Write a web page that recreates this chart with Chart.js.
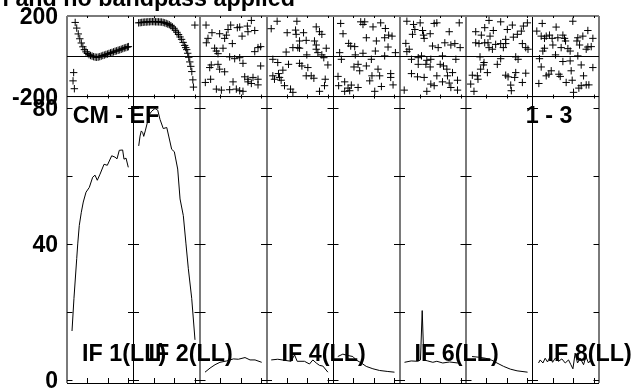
<!DOCTYPE html>
<html>
<head>
<meta charset="utf-8">
<script src="https://cdn.jsdelivr.net/npm/chart.js@4"></script>
<style>html,body{margin:0;padding:0;background:#fff}canvas{display:block}</style>
</head>
<body>
<canvas id="c" width="634" height="388"></canvas>
<script>
const titleText = "l and no bandpass applied";
const panelLabels = ["IF 1(LL)", "IF 2(LL)", "", "IF 4(LL)", "", "IF 6(LL)", "", "IF 8(LL)"];
const cornerLeft = "CM - EF";
const cornerRight = "1 - 3";
const phaseTicks = [-200, 0, 200];
const phaseLabels = [-200, 200];
const ampTicks = [0, 20, 40, 60, 80];
const ampLabels = [0, 40, 80];
const chanTicks = [20, 40, 60];
const panelSpan = 65;
const panelCount = 8;

const phase1 = [[5.9,-122],[6.5,-81],[7.2,-161],[8,168],[9.5,140],[11,111],[12.5,87],[14,66],[15.5,47],[17,33],[18.5,22],[20,14],[21.5,8],[23,4],[24.5,1],[26,-2],[27.5,-4],[29,-5],[30.5,-4],[32,-2],[33.5,1],[35,4],[36.5,6],[38,9],[39.5,11],[41,14],[42.5,17],[44,19],[45.5,22],[47,25],[48.5,27],[50,30],[51.5,32],[53,35],[54.5,38],[56,41],[57.5,43],[59,46],[60,48]];
const phase2 = [[5,166],[6.5,167],[8,168],[9.5,169],[11,170],[12.5,170],[14,171],[15.5,171],[17,172],[18.5,172],[20,172],[21.5,171],[23,171],[24.5,171],[26,170],[27.5,170],[29,168],[30.5,166],[32,163],[33.5,160],[35,157],[36.5,152],[38,146],[39.5,139],[41,129],[42.5,119],[44,108],[45.5,96],[47,84],[48.5,69],[50,54],[51,43],[52,33],[53,15],[54,-5],[55,-28],[56,-50],[57,-76],[58,-117],[58.6,-153],[60,155]];
const phase3 = [[5.9,155],[11.7,117],[7.8,89],[6.2,67],[19.2,112],[24.1,89],[25.8,105],[27.4,133],[30,155],[36.5,142],[38.8,145],[46.3,150],[50.2,178],[53.5,128],[46.9,122],[41.1,100],[31.6,63],[22.5,40],[14.3,40],[16,26],[17.6,13],[53.5,23],[56.7,43],[59.3,48],[59.3,-48],[29,-3],[33.9,-12],[38.8,-7],[42,-35],[11,-43],[9.5,-56],[17.6,-40],[19.2,-64],[24.1,-77],[10.4,-114],[5.2,-130],[32.3,-127],[43.7,-102],[46.9,-114],[51.8,-105],[56.7,-114],[46.9,-127],[50.2,-135],[56.7,-142],[16,-163],[20.9,-168],[29,-166],[35.5,-163],[38.8,-171],[42,-174]];
const phase4 = [[10.4,174],[29.7,174],[4.6,137],[48.6,146],[20.2,117],[28.4,130],[36.2,117],[51.8,122],[54.1,109],[29,109],[32.3,76],[38.8,79],[46.9,76],[48.6,56],[25.8,43],[30.6,43],[32.3,40],[48.6,35],[58.4,40],[19.2,21],[39.4,7],[50.2,18],[54.1,7],[56,-7],[6.2,-15],[11,-31],[21.5,-40],[32.3,-35],[34.6,-48],[60,-43],[40.4,-56],[16,-69],[6.2,-97],[11.7,-86],[12.7,-105],[14.3,-119],[7.8,-114],[38.8,-97],[43.7,-97],[46.3,-109],[57.4,-114],[17.6,-146],[23.5,-163],[25.8,-179],[56.7,-146],[51.8,-174]];
const phase5 = [[7.5,163],[9.8,112],[27.1,171],[31,171],[29.3,158],[39.1,146],[46.6,166],[51.2,138],[32.6,92],[50.5,92],[54.4,105],[57.7,100],[42.4,76],[15.3,64],[17.3,51],[21.2,48],[53.8,46],[41.4,26],[61,18],[6.5,18],[50.5,2],[29.3,15],[21.8,7],[8.2,-15],[37.5,-15],[24.5,-40],[20.5,-53],[32.6,-48],[26.1,-72],[44,-64],[4.9,-100],[11.4,-127],[5.5,-146],[17.9,-143],[14.7,-158],[11.4,-174],[24.5,-155],[35.9,-122],[38.1,-97],[45.6,-97],[56.4,-86],[56.4,-105],[47.3,-150],[58.7,-142],[40.8,-174],[16.3,-171]];
const phase6 = [[7.2,174],[13.7,158],[20.2,166],[33.9,163],[36.5,166],[58.4,166],[15,133],[12.7,109],[22.5,128],[23.5,105],[30,112],[48.6,122],[24.1,89],[6.2,64],[32.3,51],[37.8,43],[44.3,67],[50.2,56],[54.1,63],[59.3,43],[9.5,35],[7.2,23],[11.7,-15],[18.3,-7],[21.5,2],[30.6,-15],[26.7,-20],[18.3,-40],[25.8,-40],[30,-53],[42,2],[39.8,-40],[43,-48],[55.1,-15],[46.3,-64],[51.8,-81],[11.7,-86],[17.6,-102],[24.1,-105],[36.5,-97],[46.9,-97],[56.7,-119],[42,-127],[48.6,-133],[30.6,-138],[33.9,-146],[50.2,-155],[56.7,-168],[26.7,-174],[4.6,-168]];
const phase7 = [[22.5,178],[33.9,171],[60,166],[45.3,155],[56.1,150],[18.3,142],[40.4,133],[26.7,128],[9.5,122],[54.1,125],[15,105],[23.5,100],[50.2,109],[46.3,95],[9.5,67],[12.7,63],[18.3,67],[21.5,67],[38.8,84],[33.9,63],[29,59],[38.8,63],[55.1,63],[22.5,43],[25.8,35],[36.5,43],[58.4,43],[60.6,35],[13.7,-3],[17.6,-31],[17,-43],[33.9,-12],[48.6,-3],[50.9,-15],[30.6,-40],[14.3,-64],[20.9,-81],[6.2,-94],[11.1,-97],[11.7,-114],[38.8,-94],[41.1,-102],[48.6,-81],[58.4,-84],[47.6,-105],[55.1,-130],[43.7,-143],[4.6,-138],[7.8,-174],[44.3,-171]];
const phase8 = [[9.5,163],[39.4,174],[23.1,145],[4.2,125],[54.1,128],[8.5,100],[13.4,100],[16.6,105],[11.7,89],[19.2,89],[24.8,92],[29.7,105],[31.3,89],[49.2,100],[44.3,92],[59,89],[43.4,76],[19.9,56],[32.3,76],[46,56],[11.7,40],[10.1,26],[28,43],[34.6,38],[36.8,26],[54.1,46],[57.4,48],[52.5,35],[22.5,7],[44.3,2],[6.8,-12],[29.7,-26],[36.8,-23],[8.5,-53],[47.6,-43],[59,-56],[37.8,-72],[18.3,-72],[16,-89],[13.4,-97],[25.8,-89],[27.1,-100],[49.9,-97],[6.2,-135],[32.9,-130],[38.8,-119],[52.5,-142],[47.6,-146],[55.1,-142],[45.3,-158],[40.1,-179]];

const amp1 = [[4.9,14.4],[6.8,24],[9.5,35.7],[10.5,40],[12,45.4],[14,49.3],[15.9,52.3],[18.6,55.2],[21.8,56.6],[25.1,59.6],[27.4,60.2],[29.6,58.7],[32.3,60.5],[36.2,63.4],[39.4,63.1],[43.7,65.9],[46.9,65.5],[48.9,65],[51.1,67.5],[54.4,67.6],[55.7,64.9],[57.7,65.2],[59.9,62.5]];
const amp2 = [[5.1,68.8],[6.4,71.7],[7.6,73.2],[9,72.7],[10,71.6],[11.5,73.2],[13.5,75.6],[15.4,78],[17.8,79],[21,79.8],[23.7,79.3],[25.9,76.6],[29.1,73.9],[32.5,74.2],[34.4,71.7],[37.3,67.8],[39.9,67.1],[43.2,62],[45.5,53.2],[48.7,48.3],[51.3,40],[53.6,32.7],[56.9,24],[60.1,11.8]];
const amp3 = [[4.9,2.3],[9.8,3.5],[14.7,4.5],[19.5,5.2],[26.1,5.6],[32.6,6.2],[37.5,6.1],[44,6.6],[48.9,5.9],[53.8,5.9],[60.3,5.2]];
const amp4 = [[4.6,5.9],[11,6.1],[17.6,5.8],[24.1,5.5],[27.4,7.4],[30,5.5],[37.1,5.5],[42,4.7],[45.3,5.9],[48.6,5],[51.8,4.3],[55.1,4.1],[60,2.3]];
const amp5 = [[4.7,6.9],[9.6,7.6],[14.5,7.2],[19.4,6.9],[22.7,5.9],[27.6,5],[32.5,4],[39,3.3],[45.5,2.8],[53.6,2.5],[60.1,2.3]];
const amp6 = [[4.9,5.2],[11.4,5.6],[17.9,5.5],[20.5,5.9],[22.2,20.4],[23.8,5.9],[27.7,5.6],[32.6,5.2],[36.5,5.5],[42.3,5],[48.9,5.3],[57,5]];
const amp7 = [[5.9,6.9],[12.4,6.7],[18.9,6.4],[25.4,5.8],[30.3,5],[36.8,4],[43.3,3.2],[49.9,2.7],[60.2,2.3]];
const amp8 = [[5.9,5],[7.5,5.9],[10.2,5],[12.4,6.4],[14.7,5.3],[17.3,6.9],[19.6,5.2],[22.2,6.4],[25.4,5.5],[28.7,6.2],[32,5],[35.2,5.9],[37.5,4.5],[39.5,3.3],[41.7,7.9],[44,5],[46.6,6.4],[49.9,4.5],[52.2,6.9],[54.7,5],[57,5.9]];

const phaseSets = [phase1, phase2, phase3, phase4, phase5, phase6, phase7, phase8];
const ampSets = [amp1, amp2, amp3, amp4, amp5, amp6, amp7, amp8];
const place = (set, i) => set.map(p => ({ x: i * panelSpan + p[0], y: p[1] }));
const boundaries = Array.from({ length: panelCount + 1 }, (_, i) => i * panelSpan);
const softEdges = [0, 2, 3, 5, 6, 8];
const FAMILY = '"Liberation Sans", Arial, sans-serif';
const FONT = 'bold 23.3px ' + FAMILY;
const fitLeftAxis = s => { s.width = 67; s.paddingTop = 0; s.paddingBottom = 0; };

const datasets = [];
phaseSets.forEach((s, i) => datasets.push({
  type: 'scatter', data: place(s, i), xAxisID: 'x', yAxisID: 'yPhase',
  pointStyle: 'cross', pointRadius: 3.7, pointBorderWidth: 1, pointRotation: 0,
  pointBorderColor: '#000', pointBackgroundColor: '#000', showLine: false
}));
ampSets.forEach((s, i) => datasets.push({
  type: 'line', data: place(s, i), xAxisID: 'x', yAxisID: 'yAmp',
  borderColor: '#000', borderWidth: 1, pointRadius: 0, tension: 0, fill: false
}));

const framePlugin = {
  id: 'frame',
  afterDatasetsDraw(chart) {
    const { ctx, scales } = chart;
    const { x, yPhase, yAmp } = scales;
    const top = yPhase.getPixelForValue(200), sep = yPhase.getPixelForValue(-200);
    const bottom = yAmp.bottom;
    ctx.save();
    ctx.strokeStyle = '#000';
    ctx.lineWidth = 1;
    const seg = (a, b, c, d) => { ctx.beginPath(); ctx.moveTo(a, b); ctx.lineTo(c, d); ctx.stroke(); };
    seg(x.left, sep, x.right, sep);
    seg(x.left, bottom + 0.5, x.right, bottom + 0.5);
    for (let i = 0; i < panelCount; i++) {
      chanTicks.forEach(ch => {
        const px = Math.round(x.getPixelForValue(i * panelSpan + ch)) + 0.5;
        seg(px, top, px, top + 2);
        seg(px, sep - 2, px, sep + 2);
        seg(px, bottom, px, bottom - 5);
      });
    }
    ampTicks.forEach(v => {
      const py = Math.round(yAmp.getPixelForValue(v)) + 0.5;
      boundaries.forEach((b, i) => {
        const px = x.getPixelForValue(b);
        seg(i === 0 ? px : px - 5.5, py, i === panelCount ? px : px + 5.5, py);
      });
    });
    ctx.fillStyle = '#000';
    ctx.font = FONT;
    ctx.textBaseline = 'alphabetic';
    ctx.textAlign = 'left';
    panelLabels.forEach((t, i) => {
      if (t) ctx.fillText(t, x.getPixelForValue(i * panelSpan + 14.7), yAmp.getPixelForValue(5.5));
    });
    ctx.fillText(cornerLeft, x.getPixelForValue(5.5), yAmp.getPixelForValue(75.4));
    ctx.fillText(cornerRight, x.getPixelForValue(7 * panelSpan - 6.5), yAmp.getPixelForValue(75.4));
    ctx.textAlign = 'right';
    ctx.fillText(titleText, 295, 6);
    ctx.restore();
  }
};

new Chart(document.getElementById('c'), {
  data: { datasets },
  plugins: [framePlugin],
  options: {
    responsive: false,
    animation: false,
    layout: { padding: { left: 0, right: 35, top: 16, bottom: 3 } },
    plugins: { legend: { display: false }, tooltip: { enabled: false }, title: { display: false } },
    scales: {
      x: {
        type: 'linear', min: 0, max: panelSpan * panelCount,
        afterBuildTicks: s => { s.ticks = boundaries.map(v => ({ value: v })); },
        ticks: { display: false },
        border: { display: false },
        afterFit: s => { s.height = 0; s.paddingLeft = 0; s.paddingRight = 0; },
        grid: {
          drawTicks: false,
          color: c => softEdges.includes(c.index) ? '#7a7a7a' : '#000',
          lineWidth: c => softEdges.includes(c.index) ? 2 : 1
        }
      },
      yAmp: {
        type: 'linear', position: 'left', stack: 'rows', stackWeight: 288,
        min: -0.88, max: 83.3,
        afterBuildTicks: s => { s.ticks = ampTicks.map(v => ({ value: v })); },
        afterFit: fitLeftAxis,
        ticks: {
          padding: 9, labelOffset: 2, color: '#000', autoSkip: false, maxRotation: 0,
          font: { family: FAMILY, size: 23, weight: 'bold' },
          callback: v => ampLabels.includes(v) ? String(v) : ''
        },
        border: { display: false },
        grid: { display: false, drawTicks: false }
      },
      yPhase: {
        type: 'linear', position: 'left', stack: 'rows', stackWeight: 81,
        min: -200, max: 200,
        afterBuildTicks: s => { s.ticks = phaseTicks.map(v => ({ value: v })); },
        afterFit: fitLeftAxis,
        ticks: {
          padding: 9, labelOffset: 2, color: '#000', autoSkip: false, maxRotation: 0,
          font: { family: FAMILY, size: 23, weight: 'bold' },
          callback: v => phaseLabels.includes(v) ? String(v) : ''
        },
        border: { display: false },
        grid: {
          drawTicks: false,
          color: c => c.tick.value === 200 ? '#7a7a7a' : '#000',
          lineWidth: c => c.tick.value === 200 ? 2 : 1
        }
      }
    }
  }
});
</script>
</body>
</html>
